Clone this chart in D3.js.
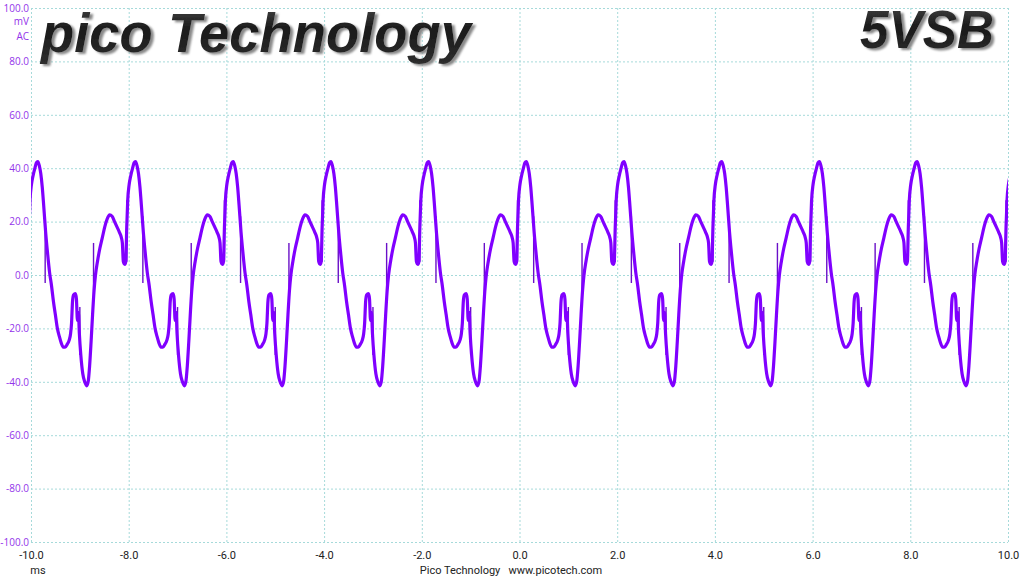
<!DOCTYPE html>
<html>
<head>
<meta charset="utf-8">
<script src="https://cdn.jsdelivr.net/npm/d3@7"></script>
<style>
  html, body { margin: 0; padding: 0; background: #ffffff; }
  svg { display: block; }
</style>
</head>
<body>
<svg id="chart" width="1024" height="576"></svg>
<script>
// ---- data ----
const xTicks = [-10, -8, -6, -4, -2, 0, 2, 4, 6, 8, 10];          // ms
const yTicks = [100, 80, 60, 40, 20, 0, -20, -40, -60, -80, -100]; // mV
const yUnits = ["mV", "AC"];
const titleLeft = "pico Technology";
const titleRight = "5VSB";
const xUnit = "ms";
const footer = "Pico Technology   www.picotech.com";

// peak time of each cycle (ms)
const cyclePeaks = [-9.86, -7.86, -5.86, -3.86, -1.86, 0.14, 2.14, 4.14, 6.14, 8.14, 10.14];
// one cycle of the waveform, time relative to the cycle peak (ms)
const cyclePhase = [-0.20,-0.18,-0.16,-0.13,-0.10,-0.06,-0.03,0.00,0.03,0.06,0.09,0.12,0.16,0.20,0.24,0.28,0.32,0.36,0.40,0.44,0.48,0.52,0.56,0.60,0.64,0.67,0.69,0.71,0.73,0.77,0.79,0.81,0.83,0.85,0.88,0.92,0.96,1.00,1.03,1.06,1.09,1.12,1.15,1.18,1.22,1.27,1.32,1.37,1.42,1.47,1.52,1.57,1.62,1.67,1.71,1.73,1.75,1.78];
const cycleValue = [5,18,28,34,37,40,42,42.5,41,38,33,26,16,8,1,-4,-10,-15,-20,-23,-25.5,-27,-27,-26,-24.5,-22,-18,-10,-7.5,-7,-9,-17,-14,-22,-30,-37,-40,-41.5,-40,-34,-25,-15,-6,0,5,10,14,18,21,22.5,22,20,18,16,14,12,5,4];
// thin glitch spikes in each cycle: phase, from value, to value
const spikePhase = [0.15, 0.86, 1.14, -0.18];
const spikeFrom  = [22, -12, -10, 5];
const spikeTo    = [-3, -30, 12, 28];

// ---- layout ----
const W = 1024, H = 576;
const m = { left: 31, right: 16, top: 8, bottom: 34 };
const iw = W - m.left - m.right, ih = H - m.top - m.bottom;

const svg = d3.select("#chart");
const defs = svg.append("defs");
const x = d3.scaleLinear().domain([-10, 10]).range([0, iw]);
const y = d3.scaleLinear().domain([-100, 100]).range([ih, 0]);

const g = svg.append("g").attr("transform", `translate(${m.left},${m.top})`);

// grid
const gridColor = "#a6dada";
const gx = g.append("g").attr("transform", `translate(0,${ih})`)
  .call(d3.axisBottom(x).tickValues(xTicks).tickSize(-ih).tickFormat(""));
const gy = g.append("g")
  .call(d3.axisLeft(y).tickValues(yTicks).tickSize(-iw).tickFormat(""));
[gx, gy].forEach(a => {
  a.select(".domain").remove();
  a.selectAll("line").attr("stroke", gridColor).attr("stroke-dasharray", "2,2").attr("stroke-width", 1);
});

// y labels
const labelPurple = "#9333ea";
const yl = g.append("g")
  .call(d3.axisLeft(y).tickValues(yTicks).tickSize(0).tickPadding(2).tickFormat(d => d.toFixed(1)));
yl.select(".domain").remove();
yl.selectAll("text").attr("fill", labelPurple).style("font-family", "'Open Sans', 'DejaVu Sans', sans-serif").style("font-size", "10px");
svg.append("g").selectAll("text").data(yUnits).join("text")
  .attr("x", 29).attr("y", (d, i) => 25 + i * 15)
  .attr("text-anchor", "end")
  .attr("fill", labelPurple)
  .style("font-family", "'Open Sans', 'DejaVu Sans', sans-serif").style("font-size", "10px")
  .text(d => d);

// x labels
const xl = g.append("g").attr("transform", `translate(0,${ih})`)
  .call(d3.axisBottom(x).tickValues(xTicks).tickSize(0).tickPadding(9).tickFormat(d => d.toFixed(1)));
xl.select(".domain").remove();
xl.selectAll("text").attr("fill", "#222").style("font-family", "'Liberation Sans Narrow', 'Roboto', sans-serif").style("font-size", "11px");
svg.append("text").attr("x", 38).attr("y", 574).attr("text-anchor", "middle")
  .attr("fill", "#222").style("font-family", "'Liberation Sans Narrow', 'Roboto', sans-serif").style("font-size", "11px").text(xUnit);
svg.append("text").attr("x", 511).attr("y", 574).attr("text-anchor", "middle")
  .attr("fill", "#222").style("font-family", "'Liberation Sans Narrow', 'Roboto', sans-serif").style("font-size", "11px")
  .attr("xml:space", "preserve").text(footer);

// waveform
const series = [];
cyclePeaks.forEach(p => cyclePhase.forEach((ph, i) => series.push({ t: p + ph, v: cycleValue[i] })));
const spikes = [];
cyclePeaks.forEach(p => spikePhase.forEach((ph, i) => spikes.push({ t: p + ph, a: spikeFrom[i], b: spikeTo[i] })));

defs.append("clipPath").attr("id", "plotclip")
  .append("rect").attr("x", 0).attr("y", -5).attr("width", iw).attr("height", ih + 10);

const trace = g.append("g").attr("clip-path", "url(#plotclip)");
trace.selectAll("line.spike").data(spikes).join("line").attr("class", "spike")
  .attr("x1", d => x(d.t)).attr("x2", d => x(d.t))
  .attr("y1", d => y(d.a)).attr("y2", d => y(d.b))
  .attr("stroke", "#6a10c8").attr("stroke-width", 1.4);
trace.append("path").datum(series)
  .attr("fill", "none").attr("stroke", "#8000ff").attr("stroke-width", 3.2)
  .attr("stroke-linejoin", "round")
  .attr("d", d3.line().x(d => x(d.t)).y(d => y(d.v)).curve(d3.curveMonotoneX));

// titles with 3D-like look (single text element + shadow filter)
const grad = defs.append("linearGradient").attr("id", "tg").attr("x1", 0).attr("y1", 0).attr("x2", 0).attr("y2", 1);
grad.append("stop").attr("offset", "0%").attr("stop-color", "#4a4a4a");
grad.append("stop").attr("offset", "45%").attr("stop-color", "#1a1a1a");
grad.append("stop").attr("offset", "100%").attr("stop-color", "#2e2e2e");
const f = defs.append("filter").attr("id", "shadow").attr("x", "-5%").attr("y", "-20%").attr("width", "115%").attr("height", "150%");
f.append("feOffset").attr("in", "SourceAlpha").attr("dx", 3).attr("dy", 2).attr("result", "off");
f.append("feGaussianBlur").attr("in", "off").attr("stdDeviation", 0.9).attr("result", "blur");
f.append("feFlood").attr("flood-color", "#8a8a8a").attr("result", "col");
f.append("feComposite").attr("in", "col").attr("in2", "blur").attr("operator", "in").attr("result", "sh");
const fm = f.append("feMerge");
fm.append("feMergeNode").attr("in", "sh");
fm.append("feMergeNode").attr("in", "SourceGraphic");

function title(txt, xx, yy, size, anchor, len) {
  svg.append("text").attr("x", xx).attr("y", yy).attr("text-anchor", anchor)
    .attr("fill", "url(#tg)").attr("filter", "url(#shadow)")
    .style("font-family", "'Liberation Sans', Arial, sans-serif").style("font-style", "italic").style("font-weight", "bold")
    .style("font-size", size + "px").attr("textLength", len).attr("lengthAdjust", "spacingAndGlyphs").text(txt);
}
title(titleLeft, 41, 52, 56, "start", 430);
title(titleRight, 994, 48, 53, "end", 134);
</script>
</body>
</html>
